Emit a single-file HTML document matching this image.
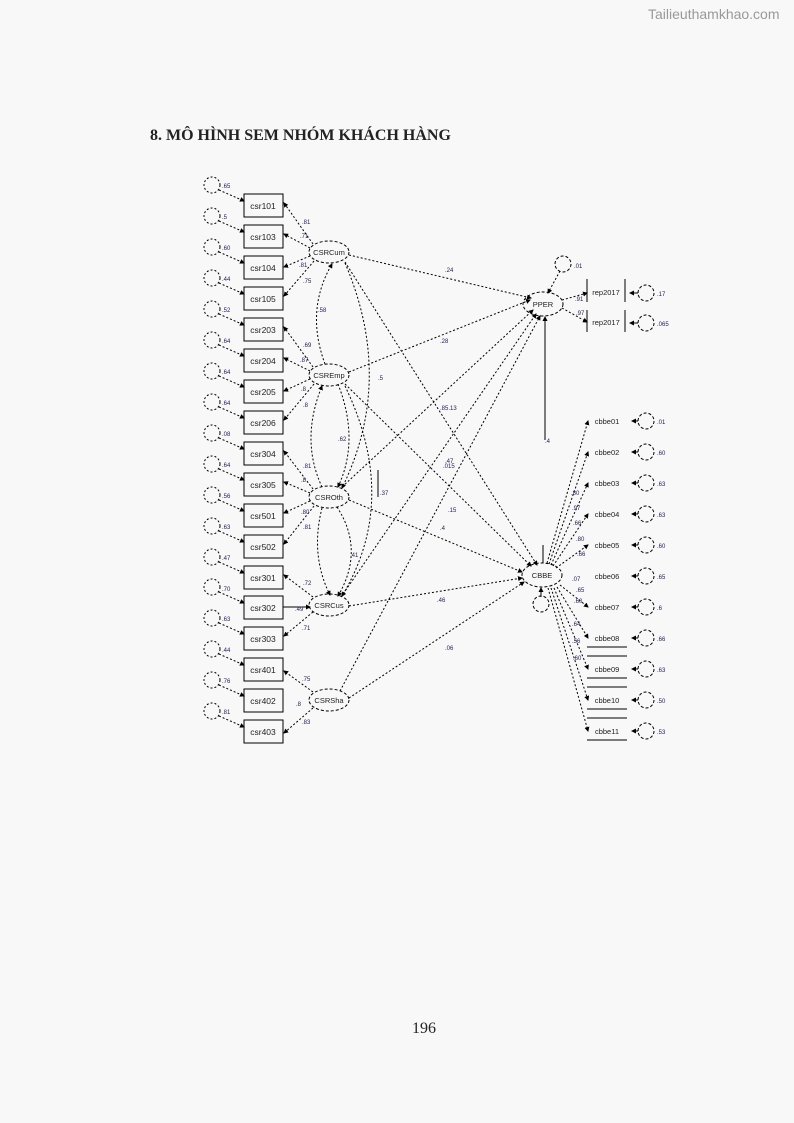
<!DOCTYPE html>
<html><head><meta charset="utf-8"><style>
body{margin:0;background:#f8f8f8;width:794px;height:1123px;position:relative;overflow:hidden;font-family:"Liberation Serif",serif}
.t{position:absolute;left:150px;top:127px;font-weight:bold;font-size:16px;color:#222}
.p{position:absolute;left:412px;top:1020px;font-size:16px;color:#222}
.w{position:absolute;left:648px;top:6px;font-family:"Liberation Sans",sans-serif;font-size:14px;color:#999}
svg{position:absolute;left:0;top:0}
svg text{font-family:"Liberation Sans",sans-serif}
</style></head><body>
<div class="w">Tailieuthamkhao.com</div>
<div class="t">8. MÔ HÌNH SEM NHÓM KHÁCH HÀNG</div>
<div class="p">196</div>
<svg width="794" height="1123" viewBox="0 0 794 1123">
<defs><marker id="a" markerWidth="5" markerHeight="5" refX="4" refY="2.5" orient="auto"><path d="M0,0L5,2.5L0,5z" fill="#000"/></marker></defs>
<g stroke="#000" stroke-width="1" fill="none">
<g>
<rect x="244" y="194" width="39" height="23"/><rect x="244" y="225" width="39" height="23"/><rect x="244" y="256" width="39" height="23"/><rect x="244" y="287" width="39" height="23"/><rect x="244" y="318" width="39" height="23"/><rect x="244" y="349" width="39" height="23"/><rect x="244" y="380" width="39" height="23"/><rect x="244" y="411" width="39" height="23"/><rect x="244" y="442" width="39" height="23"/><rect x="244" y="473" width="39" height="23"/><rect x="244" y="504" width="39" height="23"/><rect x="244" y="535" width="39" height="23"/><rect x="244" y="566" width="39" height="23"/><rect x="244" y="596" width="39" height="23"/><rect x="244" y="627" width="39" height="23"/><rect x="244" y="658" width="39" height="23"/><rect x="244" y="689" width="39" height="23"/><rect x="244" y="720" width="39" height="23"/>
</g>
<g stroke-dasharray="2,2">
<circle cx="212" cy="185" r="8"/><circle cx="212" cy="216" r="8"/><circle cx="212" cy="247" r="8"/><circle cx="212" cy="278" r="8"/><circle cx="212" cy="309" r="8"/><circle cx="212" cy="340" r="8"/><circle cx="212" cy="371" r="8"/><circle cx="212" cy="402" r="8"/><circle cx="212" cy="433" r="8"/><circle cx="212" cy="464" r="8"/><circle cx="212" cy="495" r="8"/><circle cx="212" cy="526" r="8"/><circle cx="212" cy="557" r="8"/><circle cx="212" cy="587" r="8"/><circle cx="212" cy="618" r="8"/><circle cx="212" cy="649" r="8"/><circle cx="212" cy="680" r="8"/><circle cx="212" cy="711" r="8"/>
</g>
<g stroke-dasharray="2,2" marker-end="url(#a)">
<path d="M219,190L244,201"/><path d="M219,221L244,232"/><path d="M219,252L244,263"/><path d="M219,283L244,294"/><path d="M219,314L244,325"/><path d="M219,345L244,356"/><path d="M219,376L244,387"/><path d="M219,407L244,418"/><path d="M219,438L244,449"/><path d="M219,469L244,480"/><path d="M219,500L244,511"/><path d="M219,531L244,542"/><path d="M219,562L244,573"/><path d="M219,592L244,603"/><path d="M219,623L244,634"/><path d="M219,654L244,665"/><path d="M219,685L244,696"/><path d="M219,716L244,727"/>
<path d="M313,244L284,203"/><path d="M310,248L284,234"/><path d="M310,256L284,267"/><path d="M314,261L284,296"/>
<path d="M313,367L284,327"/><path d="M310,371L284,358"/><path d="M310,379L284,391"/><path d="M314,384L284,420"/>
<path d="M313,489L284,451"/><path d="M310,493L284,482"/><path d="M310,501L284,513"/><path d="M314,506L284,544"/>
<path d="M313,597L284,575"/><path d="M313,612L284,636"/>
<path d="M313,692L284,671"/><path d="M313,708L284,733"/>
<path d="M349,255L531,298"/><path d="M349,372L530,300"/><path d="M342,487L533,310"/><path d="M341,597L536,314"/><path d="M340,691L540,316"/>
<path d="M345,262L537,565"/><path d="M345,384L531,566"/><path d="M349,500L522,572"/><path d="M349,606L522,578"/><path d="M349,698L524,582"/>
<path d="M338,384Q360,440 338,487"/><path d="M325,364Q305,310 332,264"/><path d="M322,487Q300,440 322,386"/><path d="M337,507Q365,550 338,596"/><path d="M322,508Q310,555 330,595"/>
<path d="M345,263Q395,380 342,488"/><path d="M345,386Q400,500 342,596"/>
<path d="M560,271L548,293"/><path d="M562,300L587,293"/><path d="M562,308L587,322"/>
<path d="M547,563L588,421"/><path d="M549,564L588,452"/><path d="M551,565L588,483"/><path d="M553,566L588,514"/><path d="M556,568L588,545"/><path d="M560,585L588,607"/><path d="M557,587L588,638"/><path d="M554,588L588,669"/><path d="M551,588L588,700"/><path d="M548,588L588,731"/>
</g>
<path d="M545,440L545,317" marker-end="url(#a)"/>
<path d="M543,545L543,563"/>
<path d="M541,597L541,588" marker-end="url(#a)"/>
<path d="M283,607L310,607" marker-end="url(#a)"/>
<path d="M378,470L378,497"/>
<g stroke-dasharray="3,2">
<ellipse cx="329" cy="252" rx="20" ry="11"/><ellipse cx="329" cy="375" rx="20" ry="11"/><ellipse cx="329" cy="497" rx="20" ry="11"/><ellipse cx="329" cy="605" rx="20" ry="11"/><ellipse cx="329" cy="700" rx="20" ry="11"/>
<ellipse cx="543" cy="304" rx="20" ry="12"/><ellipse cx="542" cy="575" rx="20" ry="12"/>
<circle cx="563" cy="264" r="8"/><circle cx="541" cy="604" r="8"/>
<circle cx="646" cy="293" r="8"/><circle cx="646" cy="323" r="8"/>
<circle cx="646" cy="421" r="8"/><circle cx="646" cy="452" r="8"/><circle cx="646" cy="483" r="8"/><circle cx="646" cy="514" r="8"/><circle cx="646" cy="545" r="8"/><circle cx="646" cy="576" r="8"/><circle cx="646" cy="607" r="8"/><circle cx="646" cy="638" r="8"/><circle cx="646" cy="669" r="8"/><circle cx="646" cy="700" r="8"/><circle cx="646" cy="731" r="8"/>
</g>
<path d="M587,279V302M625,279V302M587,310V332M625,310V332"/>
<path d="M587,647H627M587,656H627M587,678H627M587,687H627M587,709H627M587,718H627M587,740H627"/>
<g marker-end="url(#a)"><path d="M638,293L630,293"/><path d="M638,323L630,323"/>
<path d="M638,421L632,421"/><path d="M638,452L632,452"/><path d="M638,483L632,483"/><path d="M638,514L632,514"/><path d="M638,545L632,545"/><path d="M638,576L632,576"/><path d="M638,607L632,607"/><path d="M638,638L632,638"/><path d="M638,669L632,669"/><path d="M638,700L632,700"/><path d="M638,731L632,731"/></g>
</g>
<g font-size="8.5" fill="#222" text-anchor="middle">
<text x="263" y="209">csr101</text><text x="263" y="240">csr103</text><text x="263" y="271">csr104</text><text x="263" y="302">csr105</text><text x="263" y="333">csr203</text><text x="263" y="364">csr204</text><text x="263" y="395">csr205</text><text x="263" y="426">csr206</text><text x="263" y="457">csr304</text><text x="263" y="488">csr305</text><text x="263" y="519">csr501</text><text x="263" y="550">csr502</text><text x="263" y="581">csr301</text><text x="263" y="611">csr302</text><text x="263" y="642">csr303</text><text x="263" y="673">csr401</text><text x="263" y="704">csr402</text><text x="263" y="735">csr403</text>
</g>
<g font-size="7.5" fill="#222" text-anchor="middle">
<text x="329" y="255">CSRCum</text><text x="329" y="378">CSREmp</text><text x="329" y="500">CSROth</text><text x="329" y="608">CSRCus</text><text x="329" y="703">CSRSha</text>
<text x="543" y="307">PPER</text><text x="542" y="578">CBBE</text>
<text x="606" y="295">rep2017</text><text x="606" y="325">rep2017</text>
<text x="607" y="424">cbbe01</text><text x="607" y="455">cbbe02</text><text x="607" y="486">cbbe03</text><text x="607" y="517">cbbe04</text><text x="607" y="548">cbbe05</text><text x="607" y="579">cbbe06</text><text x="607" y="610">cbbe07</text><text x="607" y="641">cbbe08</text><text x="607" y="672">cbbe09</text><text x="607" y="703">cbbe10</text><text x="607" y="734">cbbe11</text>
</g>
<g font-size="6" fill="#225">
<text x="222" y="188">.65</text><text x="222" y="219">.5</text><text x="222" y="250">.60</text><text x="222" y="281">.44</text><text x="222" y="312">.52</text><text x="222" y="343">.64</text><text x="222" y="374">.64</text><text x="222" y="405">.64</text><text x="222" y="436">.08</text><text x="222" y="467">.64</text><text x="222" y="498">.56</text><text x="222" y="529">.63</text><text x="222" y="560">.47</text><text x="222" y="591">.70</text><text x="222" y="621">.63</text><text x="222" y="652">.44</text><text x="222" y="683">.76</text><text x="222" y="714">.81</text>
<text x="302" y="224">.81</text><text x="300" y="238">.71</text><text x="299" y="267">.81</text><text x="303" y="283">.75</text><text x="303" y="347">.69</text><text x="300" y="362">.87</text><text x="301" y="391">.8</text><text x="303" y="407">.8</text><text x="303" y="468">.81</text><text x="301" y="482">.8</text><text x="301" y="514">.80</text><text x="303" y="529">.81</text><text x="303" y="585">.72</text><text x="295" y="611">.49</text><text x="302" y="630">.71</text><text x="302" y="681">.75</text><text x="296" y="706">.8</text><text x="302" y="724">.83</text>
<text x="318" y="312">.58</text><text x="338" y="441">.62</text><text x="350" y="557">.41</text><text x="380" y="495">.37</text><text x="378" y="380">.5</text>
<text x="445" y="272">.24</text><text x="440" y="343">.28</text><text x="440" y="410">.85.13</text><text x="445" y="463">.47</text><text x="443" y="468">.015</text><text x="448" y="512">.15</text><text x="440" y="530">.4</text><text x="437" y="602">.46</text><text x="445" y="650">.06</text><text x="545" y="443">.4</text>
<text x="575" y="301">.91</text><text x="576" y="315">.97</text><text x="574" y="268">.01</text><text x="657" y="296">.17</text><text x="657" y="326">.065</text>
<text x="657" y="424">.01</text><text x="657" y="455">.60</text><text x="657" y="486">.63</text><text x="657" y="517">.63</text><text x="657" y="548">.60</text><text x="657" y="579">.65</text><text x="657" y="610">.6</text><text x="657" y="641">.66</text><text x="657" y="672">.63</text><text x="657" y="703">.50</text><text x="657" y="734">.53</text>
<text x="571" y="495">.80</text><text x="572" y="510">.97</text><text x="573" y="525">.66</text><text x="576" y="541">.80</text><text x="577" y="556">.66</text><text x="572" y="581">.07</text><text x="576" y="592">.65</text><text x="574" y="603">.60</text><text x="572" y="626">.64</text><text x="572" y="643">.56</text><text x="573" y="660">.60</text>
</g>
</svg>
</body></html>
